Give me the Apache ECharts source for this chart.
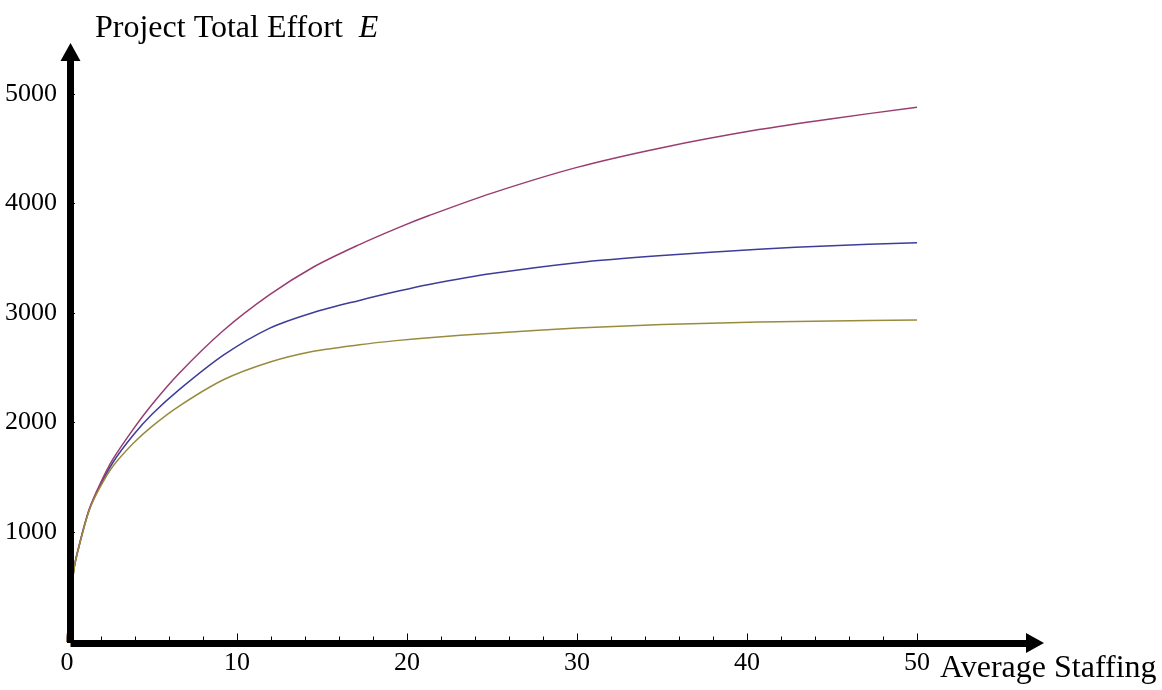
<!DOCTYPE html>
<html>
<head>
<meta charset="utf-8">
<title>Project Total Effort</title>
<script src="https://cdn.jsdelivr.net/npm/echarts@6/dist/echarts.min.js"></script>
<style>
  html, body { margin: 0; padding: 0; background: #fff; }
  #chart { width: 1162px; height: 690px; }
</style>
</head>
<body>
<div id="chart"></div>
<script>
// average staffing (x) and total effort
const staffing = [0, 0.4, 0.75, 1.3, 1.9, 2.7, 3.9, 5, 6.6, 9.2, 11.9, 14.5, 17.2, 19.5, 21.3, 25, 30, 35, 40.7, 45, 50]
const effortRed = [0, 655, 900, 1205, 1425, 1665, 1940, 2165, 2450, 2840, 3165, 3420, 3625, 3780, 3890, 4095, 4330, 4510, 4675, 4775, 4879]
const effortBlue = [0, 653, 897, 1200, 1410, 1635, 1885, 2075, 2300, 2615, 2860, 3005, 3115, 3200, 3260, 3360, 3460, 3525, 3582, 3615, 3642]
const effortYellow = [0, 650, 893, 1195, 1395, 1600, 1810, 1965, 2150, 2390, 2550, 2650, 2710, 2750, 2775, 2815, 2862, 2895, 2917, 2928, 2936]

const font = 'Liberation Serif'

function pairs(ys) {
  return staffing.map((x, i) => [x, ys[i]])
}

const chart = echarts.init(document.getElementById('chart'))

function curve(name, color, ys) {
  return {
    name: name,
    type: 'line',
    data: pairs(ys),
    showSymbol: false,
    smooth: 0.3,
    silent: true,
    clip: false,
    lineStyle: { color: color, width: 1.5 },
    z: 2
  }
}

// hidden axes of a second grid, only used to draw the thick arrows
const arrowLine = {
  show: true,
  symbol: ['none', 'triangle'],
  symbolSize: [20, 18],
  lineStyle: { color: '#000', width: 7, cap: 'butt' }
}

const option = {
  animation: false,
  backgroundColor: '#fff',
  title: [
    {
      text: 'Project Total Effort  {i|E}',
      left: 90,
      top: 8,
      textStyle: {
        fontFamily: font,
        fontSize: 32,
        fontWeight: 'normal',
        color: '#000',
        rich: { i: { fontFamily: font, fontSize: 32, fontStyle: 'italic', color: '#000' } }
      }
    },
    {
      text: 'Average Staffing',
      left: 935,
      top: 648,
      textStyle: { fontFamily: font, fontSize: 32, fontWeight: 'normal', color: '#000' }
    }
  ],
  grid: [
    { left: 67, right: 245, top: 94, bottom: 48.5, containLabel: false },
    { left: 70.5, right: 127, top: 52, bottom: 47, containLabel: false }
  ],
  xAxis: [
    {
      type: 'value',
      min: 0,
      max: 50,
      interval: 10,
      axisLine: { show: true, lineStyle: { color: '#000', width: 1 } },
      axisTick: { show: true, inside: true, length: 8, lineStyle: { color: '#000' } },
      minorTick: { show: true, splitNumber: 5, length: 5, lineStyle: { color: '#000' } },
      splitLine: { show: false },
      axisLabel: {
        margin: 9,
        fontFamily: font,
        fontSize: 26,
        color: '#000'
      }
    },
    {
      type: 'value',
      gridIndex: 1,
      min: 0,
      max: 1,
      axisLine: arrowLine,
      axisTick: { show: false },
      axisLabel: { show: false },
      splitLine: { show: false },
      z: 5
    }
  ],
  yAxis: [
    {
      type: 'value',
      min: 0,
      max: 5000,
      interval: 1000,
      axisLine: { show: true, lineStyle: { color: '#000', width: 1 } },
      axisTick: { show: true, inside: true, length: 8, lineStyle: { color: '#000' } },
      minorTick: { show: true, splitNumber: 5, length: 5, lineStyle: { color: '#000' } },
      splitLine: { show: false },
      axisLabel: {
        margin: 10,
        fontFamily: font,
        fontSize: 26,
        color: '#000',
        formatter: v => (v === 0 ? '' : String(v))
      }
    },
    {
      type: 'value',
      gridIndex: 1,
      min: 0,
      max: 1,
      axisLine: arrowLine,
      axisTick: { show: false },
      axisLabel: { show: false },
      splitLine: { show: false },
      z: 5
    }
  ],
  series: [
    curve('blue', '#3D3D99', effortBlue),
    curve('red', '#993D71', effortRed),
    curve('yellow', '#998B3D', effortYellow),
    { type: 'line', xAxisIndex: 1, yAxisIndex: 1, data: [], silent: true }
  ]
}

chart.setOption(option)
</script>
</body>
</html>
